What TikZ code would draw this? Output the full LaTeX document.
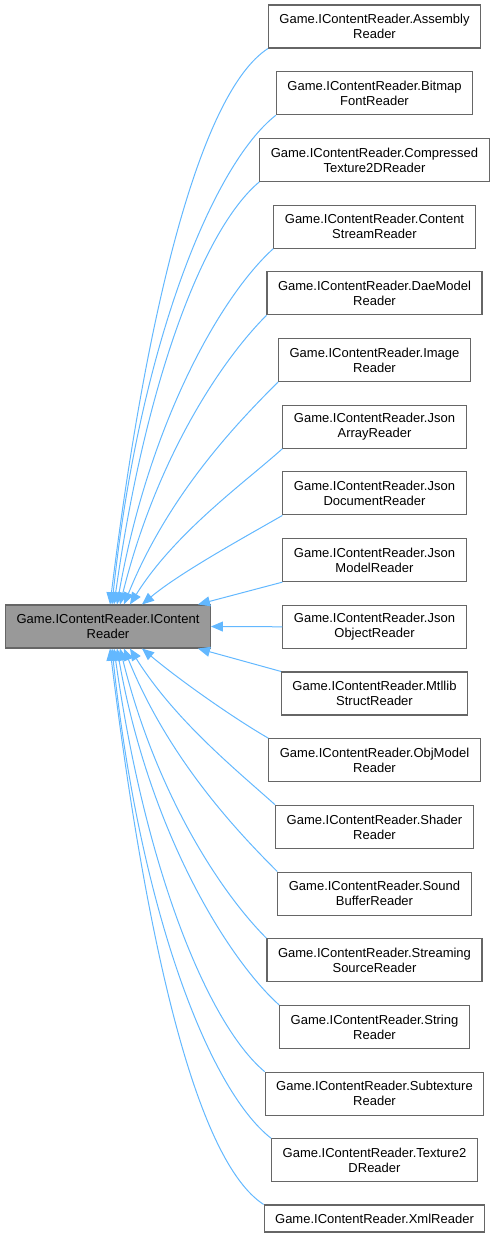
\documentclass[tikz,border=0pt]{standalone}
\usepackage{fontspec}
\setmainfont{Liberation Sans}
\usetikzlibrary{arrows.meta}
\definecolor{edgeblue}{HTML}{63B8FF}
\definecolor{boxgrey}{HTML}{666666}
\definecolor{basegrey}{HTML}{999999}

\begin{document}
\begin{tikzpicture}[x=1pt,y=1pt,
  cls/.style={draw=boxgrey,line width=1.1pt,fill=white,align=center,
    inner xsep=11pt,inner ysep=0pt,minimum height=43pt,
    font=\fontsize{13}{15}\selectfont},
  base/.style={cls,fill=basegrey},
  inh/.style={draw=edgeblue,line width=1pt,
    -{Triangle[length=12pt,width=10pt]}}]

\useasboundingbox
(0,0)
rectangle
(495,1237);

\node[base]
(icr)
at (108,610.5)
{Game.IContentReader.IContent\\Reader};

\node[cls]
(asm)
at (374.5,1210.5)
{Game.IContentReader.Assembly\\Reader};

\node[cls]
(bmf)
at (374.5,1143.8)
{Game.IContentReader.Bitmap\\FontReader};

\node[cls]
(ctex)
at (374.5,1077.1)
{Game.IContentReader.Compressed\\Texture2DReader};

\node[cls]
(cstr)
at (374.5,1010.4)
{Game.IContentReader.Content\\StreamReader};

\node[cls]
(dae)
at (374.5,943.7)
{Game.IContentReader.DaeModel\\Reader};

\node[cls]
(img)
at (374.5,877.0)
{Game.IContentReader.Image\\Reader};

\node[cls]
(jarr)
at (374.5,810.3)
{Game.IContentReader.Json\\ArrayReader};

\node[cls]
(jdoc)
at (374.5,743.6)
{Game.IContentReader.Json\\DocumentReader};

\node[cls]
(jmod)
at (374.5,676.9)
{Game.IContentReader.Json\\ModelReader};

\node[cls]
(jobj)
at (374.5,610.2)
{Game.IContentReader.Json\\ObjectReader};

\node[cls]
(mtl)
at (374.5,543.5)
{Game.IContentReader.Mtllib\\StructReader};

\node[cls]
(obj)
at (374.5,476.8)
{Game.IContentReader.ObjModel\\Reader};

\node[cls]
(shd)
at (374.5,410.1)
{Game.IContentReader.Shader\\Reader};

\node[cls]
(snd)
at (374.5,343.4)
{Game.IContentReader.Sound\\BufferReader};

\node[cls]
(strm)
at (374.5,276.7)
{Game.IContentReader.Streaming\\SourceReader};

\node[cls]
(str)
at (374.5,210.0)
{Game.IContentReader.String\\Reader};

\node[cls]
(sub)
at (374.5,143.3)
{Game.IContentReader.Subtexture\\Reader};

\node[cls]
(tex)
at (374.5,76.6)
{Game.IContentReader.Texture2\\DReader};

\node[cls,minimum height=27pt]
(xml)
at (374.5,18.5)
{Game.IContentReader.XmlReader};

% upper children
\draw[inh]
(asm.south west)
.. controls +(213:80) and +(83:300) ..
([xshift=2pt]icr.north);

\draw[inh]
(bmf.south west)
.. controls +(218:80) and +(84:260) ..
([xshift=4pt]icr.north);

\draw[inh]
(ctex.south west)
.. controls +(220:75) and +(82:220) ..
([xshift=6pt]icr.north);

\draw[inh]
(cstr.south west)
.. controls +(222:70) and +(80:185) ..
([xshift=9pt]icr.north);

\draw[inh]
(dae.south west)
.. controls +(225:65) and +(76:150) ..
([xshift=12pt]icr.north);

\draw[inh]
(img.south west)
.. controls +(225:55) and +(68:120) ..
([xshift=16pt]icr.north);

\draw[inh]
(jarr.south west)
.. controls +(222:50) and +(58:85) ..
([xshift=22pt]icr.north);

\draw[inh]
(jdoc.south west)
.. controls +(210:40) and +(40:50) ..
([xshift=34pt]icr.north);

\draw[inh]
(jmod.south west)
--
([xshift=90pt]icr.north);

\draw[inh]
(jobj.west)
--
(icr.east);

% lower children
\draw[inh]
(mtl.north west)
--
([xshift=90pt]icr.south);

\draw[inh]
(obj.north west)
.. controls +(150:40) and +(-40:50) ..
([xshift=34pt]icr.south);

\draw[inh]
(shd.north west)
.. controls +(138:50) and +(-58:85) ..
([xshift=22pt]icr.south);

\draw[inh]
(snd.north west)
.. controls +(135:55) and +(-68:120) ..
([xshift=16pt]icr.south);

\draw[inh]
(strm.north west)
.. controls +(135:65) and +(-76:150) ..
([xshift=12pt]icr.south);

\draw[inh]
(str.north west)
.. controls +(138:70) and +(-80:185) ..
([xshift=9pt]icr.south);

\draw[inh]
(sub.north west)
.. controls +(140:75) and +(-82:220) ..
([xshift=6pt]icr.south);

\draw[inh]
(tex.north west)
.. controls +(142:80) and +(-84:260) ..
([xshift=4pt]icr.south);

\draw[inh]
(xml.north west)
.. controls +(147:80) and +(-83:300) ..
([xshift=2pt]icr.south);

\end{tikzpicture}
\end{document}
